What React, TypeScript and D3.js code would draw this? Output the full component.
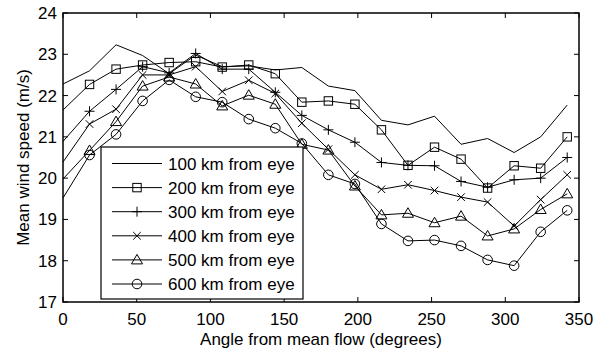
import React, { useEffect, useRef } from 'react';
import * as d3 from 'd3';

// angles (degrees); first point at 0 has no marker
const angles = [0, 18, 36, 54, 72, 90, 108, 126, 144, 162, 180, 198, 216, 234, 252, 270, 288, 306, 324, 342];

const km100 = [22.28, 22.6, 23.23, 22.97, 22.53, 22.98, 22.7, 22.72, 22.62, 22.68, 22.23, 22.12, 21.4, 21.29, 21.5, 20.82, 20.96, 20.62, 21.0, 21.77];
const km200 = [21.65, 22.27, 22.64, 22.74, 22.8, 22.82, 22.69, 22.74, 22.53, 21.84, 21.87, 21.79, 21.17, 20.31, 20.75, 20.46, 19.76, 20.3, 20.24, 21.0];
const km300 = [20.89, 21.62, 22.15, 22.7, 22.55, 23.02, 22.64, 22.64, 22.08, 21.52, 21.17, 20.87, 20.38, 20.31, 20.3, 19.92, 19.78, 19.96, 20.0, 20.5];
const km400 = [20.39, 21.31, 21.67, 22.5, 22.5, 22.7, 22.1, 22.37, 22.05, 21.33, 20.7, 20.08, 19.73, 19.84, 19.7, 19.54, 19.42, 18.84, 19.48, 20.08];
const km500 = [19.98, 20.67, 21.37, 22.23, 22.45, 22.28, 21.75, 22.01, 21.79, 20.82, 20.68, 19.81, 19.11, 19.15, 18.92, 19.08, 18.6, 18.77, 19.24, 19.62];
const km600 = [19.52, 20.56, 21.06, 21.87, 22.38, 21.97, 21.84, 21.43, 21.21, 20.84, 20.08, 19.86, 18.89, 18.48, 18.5, 18.36, 18.02, 17.88, 18.7, 19.22];

const seriesNames = ['100 km from eye', '200 km from eye', '300 km from eye', '400 km from eye', '500 km from eye', '600 km from eye'];
const seriesMarkers = ['none', 'square', 'plus', 'cross', 'triangle', 'circle'];

const xTicks = [0, 50, 100, 150, 200, 250, 300, 350];
const yTicks = [17, 18, 19, 20, 21, 22, 23, 24];

const W = 593, H = 350;
const M = { left: 63, right: 579, top: 13, bottom: 302 };
const FONT = '"Liberation Sans", Arial, sans-serif';

function drawMarker(g, type, x, y) {
  let el;
  if (type === 'square') {
    el = g.append('rect').attr('x', x - 4.2).attr('y', y - 4.2).attr('width', 8.4).attr('height', 8.4);
  } else if (type === 'circle') {
    el = g.append('circle').attr('cx', x).attr('cy', y).attr('r', 4.8);
  } else if (type === 'triangle') {
    el = g.append('path').attr('d', `M${x},${y - 5.5}L${x + 5.5},${y + 4}L${x - 5.5},${y + 4}Z`);
  } else if (type === 'plus') {
    el = g.append('path').attr('d', `M${x - 5},${y}H${x + 5}M${x},${y - 5}V${y + 5}`);
  } else if (type === 'cross') {
    el = g.append('path').attr('d', `M${x - 3.8},${y - 3.8}L${x + 3.8},${y + 3.8}M${x - 3.8},${y + 3.8}L${x + 3.8},${y - 3.8}`);
  } else {
    return;
  }
  el.attr('fill', 'none').attr('stroke', '#000').attr('stroke-width', 1);
}

const App = () => {
  const svgRef = useRef();

  useEffect(() => {
    const svg = d3.select(svgRef.current);
    svg.selectAll('*').remove();

    const x = d3.scaleLinear().domain([0, 350]).range([M.left, M.right]);
    const y = d3.scaleLinear().domain([17, 24]).range([M.bottom, M.top]);

    svg.append('rect').attr('width', W).attr('height', H).attr('fill', '#fff');

    const all = [km100, km200, km300, km400, km500, km600];
    const line = d3.line().x((d, i) => x(angles[i])).y(d => y(d));

    const plot = svg.append('g');
    all.forEach((vals, si) => {
      plot.append('path')
        .attr('d', line(vals))
        .attr('fill', 'none')
        .attr('stroke', '#000')
        .attr('stroke-width', 1);
      vals.forEach((v, i) => {
        if (i === 0) return;
        drawMarker(plot, seriesMarkers[si], x(angles[i]), y(v));
      });
    });

    // axes box with inward ticks on all sides
    const ax = svg.append('g').attr('stroke', '#000').attr('stroke-width', 1.5);
    ax.append('rect')
      .attr('x', M.left).attr('y', M.top)
      .attr('width', M.right - M.left).attr('height', M.bottom - M.top)
      .attr('fill', 'none');
    xTicks.forEach(t => {
      ax.append('line').attr('x1', x(t)).attr('x2', x(t)).attr('y1', M.bottom).attr('y2', M.bottom - 5).attr('stroke-width', 1);
      ax.append('line').attr('x1', x(t)).attr('x2', x(t)).attr('y1', M.top).attr('y2', M.top + 5).attr('stroke-width', 1);
    });
    yTicks.forEach(t => {
      ax.append('line').attr('x1', M.left).attr('x2', M.left + 5).attr('y1', y(t)).attr('y2', y(t)).attr('stroke-width', 1);
      ax.append('line').attr('x1', M.right).attr('x2', M.right - 5).attr('y1', y(t)).attr('y2', y(t)).attr('stroke-width', 1);
    });

    const txt = svg.append('g').attr('font-family', FONT).attr('font-size', 17).attr('fill', '#000');
    xTicks.forEach(t => {
      txt.append('text').attr('x', x(t)).attr('y', M.bottom + 23).attr('text-anchor', 'middle').text(t);
    });
    yTicks.forEach(t => {
      txt.append('text').attr('x', M.left - 6).attr('y', y(t) + 6).attr('text-anchor', 'end').text(t);
    });
    txt.append('text')
      .attr('x', (M.left + M.right) / 2).attr('y', 345)
      .attr('text-anchor', 'middle')
      .text('Angle from mean flow (degrees)');
    txt.append('text')
      .attr('transform', `translate(29,${(M.top + M.bottom) / 2}) rotate(-90)`)
      .attr('text-anchor', 'middle')
      .text('Mean wind speed (m/s)');

    // legend
    const lg = svg.append('g');
    lg.append('rect')
      .attr('x', 101).attr('y', 147).attr('width', 202).attr('height', 152)
      .attr('fill', '#fff').attr('stroke', '#000').attr('stroke-width', 1.2);
    seriesNames.forEach((name, i) => {
      const cy = 163.5 + i * 24.1;
      lg.append('line').attr('x1', 112).attr('x2', 162).attr('y1', cy).attr('y2', cy)
        .attr('stroke', '#000').attr('stroke-width', 1);
      drawMarker(lg, seriesMarkers[i], 137, cy);
      lg.append('text')
        .attr('x', 168).attr('y', cy + 6)
        .attr('font-family', FONT).attr('font-size', 17)
        .text(name);
    });
  }, []);

  return <svg ref={svgRef} width={W} height={H} style={{ position: 'absolute', left: 0, top: 0 }}></svg>;
};

export default App;
